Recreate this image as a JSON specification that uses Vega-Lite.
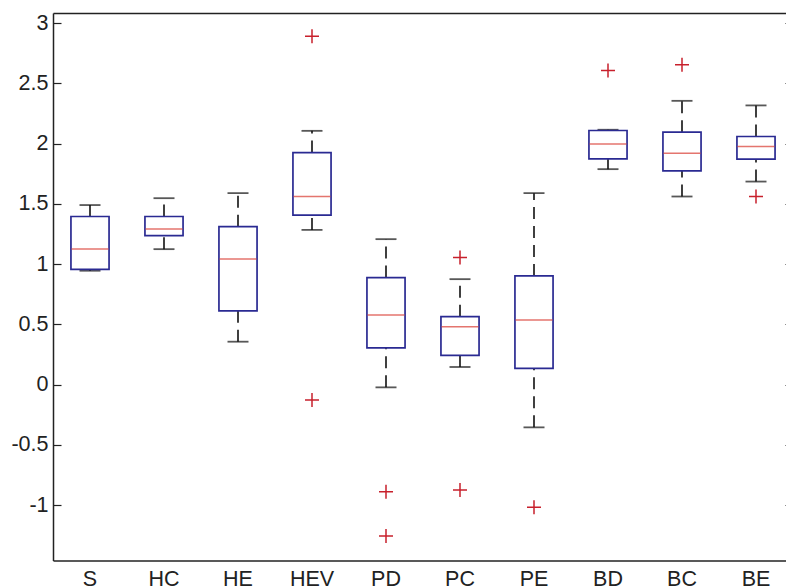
{
  "$schema": "https://vega.github.io/schema/vega-lite/v6.json",
  "autosize": "none",
  "width": 733,
  "height": 547.5,
  "padding": {"left": 53, "top": 13, "right": 0, "bottom": 25.5},
  "background": "white",
  "config": {
    "view": {"stroke": null},
    "font": "Liberation Sans",
    "axis": {"grid": false, "labelFont": "Liberation Sans", "labelFontSize": 21.5, "labelColor": "#222", "domainColor": "#222", "domainWidth": 1.5, "tickColor": "#222", "tickWidth": 1.2, "title": null}
  },
  "datasets": {
    "boxes": [
      {"name": "S", "lo": 0.945, "q1": 0.957, "med": 1.126, "q3": 1.395, "hi": 1.49},
      {"name": "HC", "lo": 1.124, "q1": 1.237, "med": 1.292, "q3": 1.395, "hi": 1.547},
      {"name": "HE", "lo": 0.356, "q1": 0.611, "med": 1.043, "q3": 1.311, "hi": 1.589},
      {"name": "HEV", "lo": 1.284, "q1": 1.406, "med": 1.561, "q3": 1.926, "hi": 2.106},
      {"name": "PD", "lo": -0.023, "q1": 0.304, "med": 0.578, "q3": 0.888, "hi": 1.207},
      {"name": "PC", "lo": 0.146, "q1": 0.243, "med": 0.481, "q3": 0.564, "hi": 0.875},
      {"name": "PE", "lo": -0.355, "q1": 0.135, "med": 0.537, "q3": 0.902, "hi": 1.589},
      {"name": "BD", "lo": 1.788, "q1": 1.874, "med": 1.996, "q3": 2.109, "hi": 2.115},
      {"name": "BC", "lo": 1.561, "q1": 1.774, "med": 1.921, "q3": 2.095, "hi": 2.355},
      {"name": "BE", "lo": 1.685, "q1": 1.871, "med": 1.976, "q3": 2.059, "hi": 2.317}
    ],
    "outliers": [
      {"name": "HEV", "value": 2.89},
      {"name": "HEV", "value": -0.128},
      {"name": "PD", "value": -0.89},
      {"name": "PD", "value": -1.257},
      {"name": "PC", "value": 1.054},
      {"name": "PC", "value": -0.875},
      {"name": "PE", "value": -1.019},
      {"name": "BD", "value": 2.607},
      {"name": "BC", "value": 2.654},
      {"name": "BE", "value": 1.561}
    ]
  },
  "data": {"name": "boxes"},
  "resolve": {"axis": {"x": "independent", "y": "independent"}},
  "layer": [
    {
      "mark": {"type": "rule", "color": "#111", "strokeWidth": 1.6, "strokeDash": [12, 7]},
      "encoding": {
        "x": {"field": "name", "type": "nominal", "sort": null,
              "scale": {"type": "band", "range": [0, 740], "paddingInner": 0, "paddingOuter": 0},
              "axis": {"orient": "bottom", "ticks": false, "labelPadding": 8, "labelAngle": 0, "domain": true}},
        "y": {"field": "q3", "type": "quantitative",
              "scale": {"domain": [-1.46, 3.084], "nice": false, "zero": false},
              "axis": {"orient": "left", "values": [-1, -0.5, 0, 0.5, 1, 1.5, 2, 2.5, 3], "tickSize": -8, "labelPadding": 13, "labelExpr": "'' + datum.value"}},
        "y2": {"field": "hi"}
      }
    },
    {
      "mark": {"type": "rule", "color": "#111", "strokeWidth": 1.6, "strokeDash": [12, 7]},
      "encoding": {
        "x": {"field": "name", "type": "nominal", "sort": null,
              "axis": {"orient": "top", "ticks": false, "labels": false, "domain": true}},
        "y": {"field": "lo", "type": "quantitative",
              "axis": {"orient": "right", "offset": 7, "values": [-1, -0.5, 0, 0.5, 1, 1.5, 2, 2.5, 3], "tickSize": -8, "labels": false, "domain": false}},
        "y2": {"field": "q1"}
      }
    },
    {
      "mark": {"type": "tick", "color": "#111", "size": 21, "thickness": 1.8},
      "encoding": {
        "x": {"field": "name", "type": "nominal", "sort": null, "axis": null},
        "y": {"field": "hi", "type": "quantitative", "axis": null}
      }
    },
    {
      "mark": {"type": "tick", "color": "#111", "size": 21, "thickness": 1.8},
      "encoding": {
        "x": {"field": "name", "type": "nominal", "sort": null, "axis": null},
        "y": {"field": "lo", "type": "quantitative", "axis": null}
      }
    },
    {
      "mark": {"type": "bar", "width": {"band": 0.515}, "fill": "white", "stroke": "#2a2a92", "strokeWidth": 1.7},
      "encoding": {
        "x": {"field": "name", "type": "nominal", "sort": null, "axis": null},
        "y": {"field": "q1", "type": "quantitative", "axis": null},
        "y2": {"field": "q3"}
      }
    },
    {
      "mark": {"type": "tick", "color": "#d93a30", "size": 37, "thickness": 1.5},
      "encoding": {
        "x": {"field": "name", "type": "nominal", "sort": null, "axis": null},
        "y": {"field": "med", "type": "quantitative", "axis": null}
      }
    },
    {
      "data": {"name": "outliers"},
      "mark": {"type": "point", "shape": "M-1,0L1,0M0,-1L0,1", "size": 196, "filled": false, "stroke": "#c8202c", "strokeWidth": 1.5, "opacity": 1},
      "encoding": {
        "x": {"field": "name", "type": "nominal", "sort": null, "axis": null},
        "y": {"field": "value", "type": "quantitative", "axis": null}
      }
    }
  ]
}
